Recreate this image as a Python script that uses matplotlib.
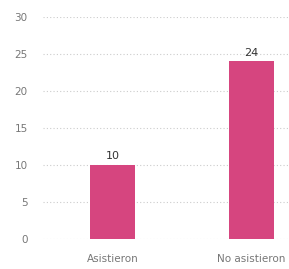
import matplotlib
matplotlib.use("Agg")
import matplotlib.pyplot as plt

categories = ["Asistieron", "No asistieron"]
values = [10, 24]
yticks = [0, 5, 10, 15, 20, 25, 30]

fig = plt.figure(figsize=(2.89, 2.69), dpi=100)
ax = fig.add_axes([43/289, 30/269, 1 - 43/289, 222/269])
x = list(range(len(categories)))
ax.bar(x, values, width=0.32, color="#d6457f", zorder=3)
for xi, v in zip(x, values):
    ax.text(xi, v + 0.5, str(v), ha="center", va="bottom", fontsize=8, color="#333333")
ax.set_ylim(0, 30)
ax.set_xlim(-0.5, 0.27 + 1)
ax.set_yticks(yticks)
ax.set_xticks(x)
ax.set_xticklabels(categories)
ax.tick_params(axis="both", length=0, labelsize=7.5, colors="#777777")
ax.tick_params(axis="y", pad=11)
ax.tick_params(axis="x", pad=11)
ax.yaxis.grid(True, linestyle=(0, (1, 2)), color="#cccccc", linewidth=0.8, zorder=0)
for s in ax.spines.values():
    s.set_visible(False)
fig.savefig("out.png", dpi=100)
